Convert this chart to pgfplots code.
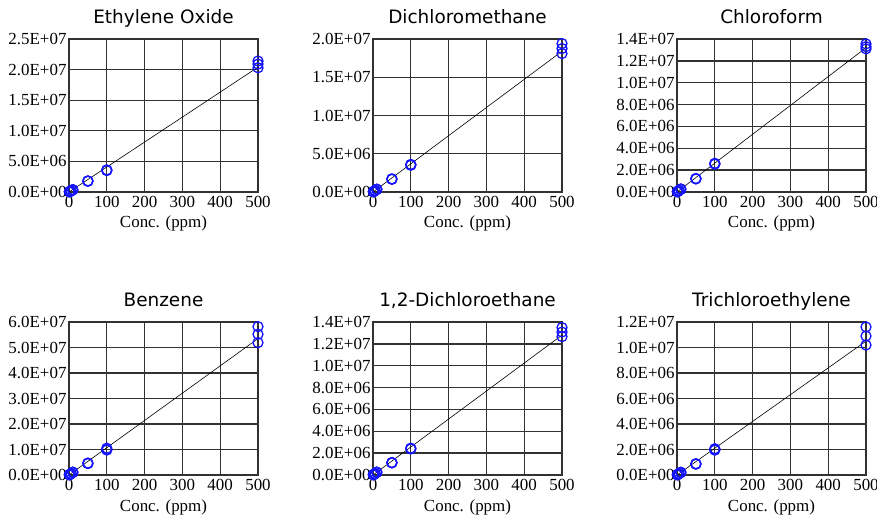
\documentclass[border=0pt]{standalone}
\usepackage{fontspec}
\setmainfont{Liberation Serif}
\newfontfamily\titlefont{DejaVu Sans}
\usepackage{pgfplots}
\pgfplotsset{compat=1.18}
\definecolor{gridc}{RGB}{50,50,50}
\definecolor{markc}{RGB}{20,20,255}
\pgfplotsset{
  calib/.style={
    scale only axis, width=189bp, height=153bp,
    anchor=south west, clip=false,
    xmin=0, xmax=500, ymin=0,
    xtick={0,100,200,300,400,500},
    xticklabels={0,100,200,300,400,500},
    major tick length=0pt,
    scaled ticks=false,
    grid=major,
    major grid style={gridc, line width=1.3bp},
    axis line style={gridc, line width=1.3bp},
    tick label style={font=\fontsize{17}{17}\selectfont, text=black},
    xticklabel style={yshift=-1bp},
    yticklabel style={xshift=1bp},
    xlabel={Conc. (ppm)},
    xlabel style={font=\fontsize{17}{17}\selectfont, at={(axis description cs:0.5,0)}, anchor=base, yshift=-36bp},
    title style={font=\titlefont\fontsize{18.5}{19}\selectfont, at={(axis description cs:0.5,1)}, anchor=base, yshift=10bp},
  },
  pts/.style={only marks, mark=o, mark size=5bp, mark options={markc, line width=1.3bp}},
  fit/.style={black, line width=0.6bp, no marks},
}
\begin{document}
\begin{tikzpicture}
\path[use as bounding box] (0,0) rectangle (877bp,520bp);
% Ethylene Oxide
\begin{axis}[calib, at={(69bp,328bp)}, title={Ethylene Oxide}, ymax=2.5e7,
  ytick={0,5e6,1e7,1.5e7,2e7,2.5e7},
  yticklabels={0.0E+00,5.0E+06,1.0E+07,1.5E+07,2.0E+07,2.5E+07}]
\addplot[fit] coordinates {(0,0) (500,2.04e7)};
\addplot[pts] coordinates {(1,3.5e4)(1,3.7e4)(1,3.6e4)(5,1.8e5)(5,1.75e5)(5,1.85e5)(10,3.6e5)(10,3.5e5)(10,3.75e5)(50,1.79e6)(50,1.77e6)(50,1.8e6)(100,3.57e6)(100,3.5e6)(100,3.6e6)(500,2.03e7)(500,2.09e7)(500,2.14e7)};
\end{axis}
% Dichloromethane
\begin{axis}[calib, at={(373bp,328bp)}, title={Dichloromethane}, ymax=2e7,
  ytick={0,5e6,1e7,1.5e7,2e7},
  yticklabels={0.0E+00,5.0E+06,1.0E+07,1.5E+07,2.0E+07}]
\addplot[fit] coordinates {(0,0) (500,1.84e7)};
\addplot[pts] coordinates {(1,3.5e4)(1,3.7e4)(1,3.6e4)(5,1.75e5)(5,1.8e5)(5,1.7e5)(10,3.5e5)(10,3.6e5)(10,3.4e5)(50,1.69e6)(50,1.67e6)(50,1.7e6)(100,3.6e6)(100,3.5e6)(100,3.55e6)(500,1.81e7)(500,1.875e7)(500,1.94e7)};
\end{axis}
% Chloroform
\begin{axis}[calib, at={(677bp,328bp)}, title={Chloroform}, ymax=1.4e7,
  ytick={0,2e6,4e6,6e6,8e6,1e7,1.2e7,1.4e7},
  yticklabels={0.0E+00,2.0E+06,4.0E+06,6.0E+06,8.0E+06,1.0E+07,1.2E+07,1.4E+07}]
\addplot[fit] coordinates {(0,0) (500,1.32e7)};
\addplot[pts] coordinates {(1,2.6e4)(1,2.7e4)(1,2.5e4)(5,1.3e5)(5,1.35e5)(5,1.25e5)(10,2.6e5)(10,2.7e5)(10,2.5e5)(50,1.22e6)(50,1.2e6)(50,1.23e6)(100,2.59e6)(100,2.55e6)(100,2.62e6)(500,1.31e7)(500,1.33e7)(500,1.355e7)};
\end{axis}
% Benzene
\begin{axis}[calib, at={(69bp,45bp)}, title={Benzene}, ymax=6e7,
  ytick={0,1e7,2e7,3e7,4e7,5e7,6e7},
  yticklabels={0.0E+00,1.0E+07,2.0E+07,3.0E+07,4.0E+07,5.0E+07,6.0E+07}]
\addplot[fit] coordinates {(0,0) (500,5.35e7)};
\addplot[pts] coordinates {(1,1.0e5)(1,1.1e5)(1,0.95e5)(5,5.2e5)(5,5.4e5)(5,5.0e5)(10,1.05e6)(10,1.1e6)(10,1.0e6)(50,4.6e6)(50,4.5e6)(50,4.65e6)(100,1.0e7)(100,1.05e7)(100,0.98e7)(500,5.19e7)(500,5.52e7)(500,5.82e7)};
\end{axis}
% 1,2-Dichloroethane
\begin{axis}[calib, at={(373bp,45bp)}, title={1,2-Dichloroethane}, ymax=1.4e7,
  ytick={0,2e6,4e6,6e6,8e6,1e7,1.2e7,1.4e7},
  yticklabels={0.0E+00,2.0E+06,4.0E+06,6.0E+06,8.0E+06,1.0E+07,1.2E+07,1.4E+07}]
\addplot[fit] coordinates {(0,0) (500,1.28e7)};
\addplot[pts] coordinates {(1,2.5e4)(1,2.6e4)(1,2.4e4)(5,1.25e5)(5,1.3e5)(5,1.2e5)(10,2.5e5)(10,2.6e5)(10,2.4e5)(50,1.13e6)(50,1.11e6)(50,1.14e6)(100,2.39e6)(100,2.45e6)(100,2.42e6)(500,1.266e7)(500,1.308e7)(500,1.349e7)};
\end{axis}
% Trichloroethylene
\begin{axis}[calib, at={(677bp,45bp)}, title={Trichloroethylene}, ymax=1.2e7,
  ytick={0,2e6,4e6,6e6,8e6,1e7,1.2e7},
  yticklabels={0.0E+00,2.0E+06,4.0E+06,6.0E+06,8.0E+06,1.0E+07,1.2E+07}]
\addplot[fit] coordinates {(0,0) (500,1.05e7)};
\addplot[pts] coordinates {(1,2.0e4)(1,2.1e4)(1,1.9e4)(5,1.0e5)(5,1.05e5)(5,0.95e5)(10,2.0e5)(10,2.1e5)(10,1.9e5)(50,8.7e5)(50,8.5e5)(50,8.8e5)(100,1.95e6)(100,2.02e6)(100,2.06e6)(500,1.019e7)(500,1.09e7)(500,1.161e7)};
\end{axis}
\end{tikzpicture}
\end{document}
